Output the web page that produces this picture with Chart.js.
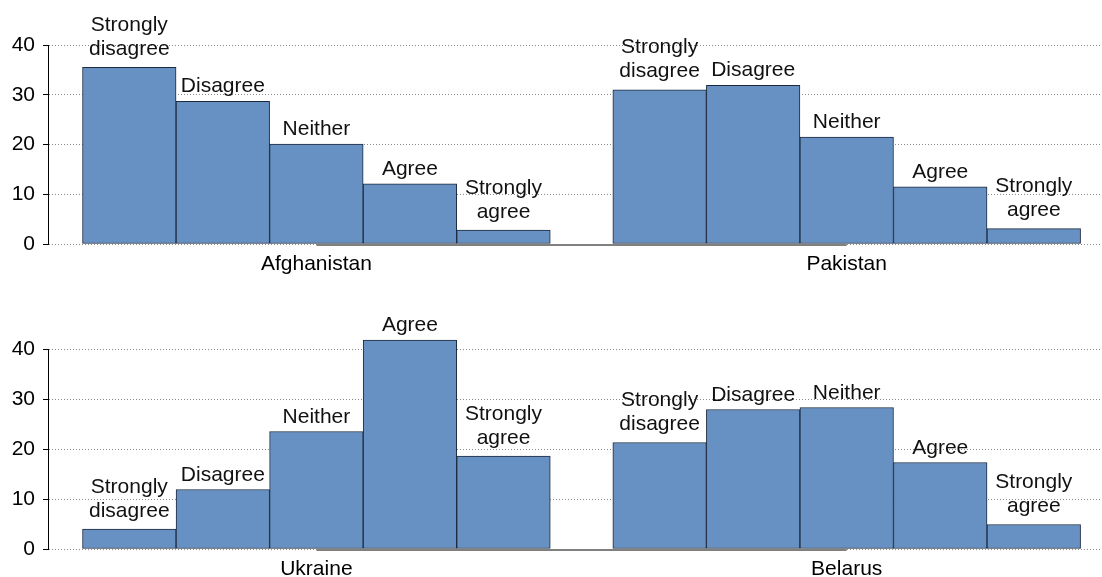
<!DOCTYPE html>
<html><head><meta charset="utf-8">
<script src="https://cdn.jsdelivr.net/npm/chart.js@4/dist/chart.umd.min.js"></script>
<style>
html,body{margin:0;padding:0;background:#fff;overflow:hidden;}
canvas{display:block;position:absolute;left:0;}
#c1{top:0;}
#c2{top:304px;}
</style></head><body>
<canvas id="c1" width="1102" height="304"></canvas>
<canvas id="c2" width="1102" height="273"></canvas>
<script>
// ---- data ----
const responses = ['Strongly disagree', 'Disagree', 'Neither', 'Agree', 'Strongly agree'];
const topCountries = ['Afghanistan', 'Pakistan'];
const bottomCountries = ['Ukraine', 'Belarus'];
const afghanistan = [35.5, 28.7, 20.1, 12.1, 2.8];
const pakistan = [31.0, 31.9, 21.5, 11.5, 3.1];
const ukraine = [4.0, 11.9, 23.5, 41.8, 18.6];
const belarus = [21.3, 27.9, 28.3, 17.3, 4.9];
const yTicks = [0, 10, 20, 30, 40];

// ---- layout constants ----
const GROUP_GAP = 0.669;           // gap between country groups, in bar widths
const STEP = responses.length + GROUP_GAP;
const XMIN = -0.869, XMAX = 10.398;
const FONT = '"Liberation Sans", Arial, Helvetica, sans-serif';
Chart.defaults.font.family = FONT;
Chart.defaults.color = '#000';

const barLabels = {
  id: 'barLabels',
  afterDatasetsDraw(chart, args, opts) {
    const ctx = chart.ctx;
    const meta = chart.getDatasetMeta(0);
    const ds = chart.data.datasets[0];
    ctx.save();
    // grey axis segment between group centres
    const xs = chart.scales.x, ys = chart.scales.y;
    const y0 = Math.round(ys.getPixelForValue(0)) + 1;
    ctx.strokeStyle = '#808080';
    ctx.lineWidth = 2;
    ctx.beginPath();
    ctx.moveTo(xs.getPixelForValue(opts.centers[0]), y0);
    ctx.lineTo(xs.getPixelForValue(opts.centers[opts.centers.length - 1]), y0);
    ctx.stroke();
    // labels above bars
    ctx.font = '21px ' + FONT;
    ctx.fillStyle = '#111';
    ctx.textAlign = 'center';
    ctx.textBaseline = 'alphabetic';
    meta.data.forEach((bar, i) => {
      const lines = ds.data[i].label.split(' ');
      const gap = lines.length > 1 ? 12.5 : 9;
      lines.forEach((line, j) => {
        ctx.fillText(line, bar.x, bar.y - gap - (lines.length - 1 - j) * 24);
      });
    });
    ctx.restore();
  }
};

function makeChart(id, countries, series, xAxisHeight, labelPad) {
  const points = [];
  series.forEach((vals, g) => vals.forEach((v, i) => {
    points.push({ x: g * STEP + i, y: v, label: responses[i] });
  }));
  const centers = countries.map((c, g) => g * STEP + (responses.length - 1) / 2);
  return new Chart(document.getElementById(id), {
    type: 'bar',
    data: {
      datasets: [{
        data: points,
        backgroundColor: '#6791c2',
        borderColor: '#1c2a3f',
        borderWidth: 1,
        borderSkipped: false,
        barPercentage: 1,
        categoryPercentage: 1,
        clip: false
      }]
    },
    options: {
      responsive: false,
      animation: false,
      devicePixelRatio: 1,
      layout: { padding: { top: 45, left: 0, right: 0, bottom: 0 } },
      plugins: {
        legend: { display: false },
        tooltip: { enabled: false },
        barLabels: { centers }
      },
      scales: {
        x: {
          type: 'linear',
          min: XMIN, max: XMAX,
          bounds: 'data',
          offset: false,
          afterBuildTicks: s => { s.ticks = centers.map(v => ({ value: v })); },
          afterFit: s => { s.height = xAxisHeight; },
          ticks: {
            callback: (v, i) => countries[i],
            autoSkip: false, maxRotation: 0,
            font: { size: 21 }, color: '#000', padding: labelPad
          },
          grid: { display: false, drawTicks: false, offset: false },
          border: { display: false }
        },
        y: {
          min: 0, max: 40,
          afterBuildTicks: s => { s.ticks = yTicks.map(v => ({ value: v })); },
          afterFit: s => { s.width = 48; },
          ticks: { font: { size: 21 }, color: '#000', padding: 8 },
          grid: {
            color: '#8a8a8a', lineWidth: 1,
            tickLength: 5, tickColor: '#000', tickWidth: 1, tickBorderDash: []
          },
          border: { display: true, color: '#000', width: 1, dash: [1, 2] }
        }
      }
    },
    plugins: [barLabels]
  });
}

makeChart('c1', topCountries, [afghanistan, pakistan], 60, 8);
makeChart('c2', bottomCountries, [ukraine, belarus], 28, 8);
</script>
</body></html>
